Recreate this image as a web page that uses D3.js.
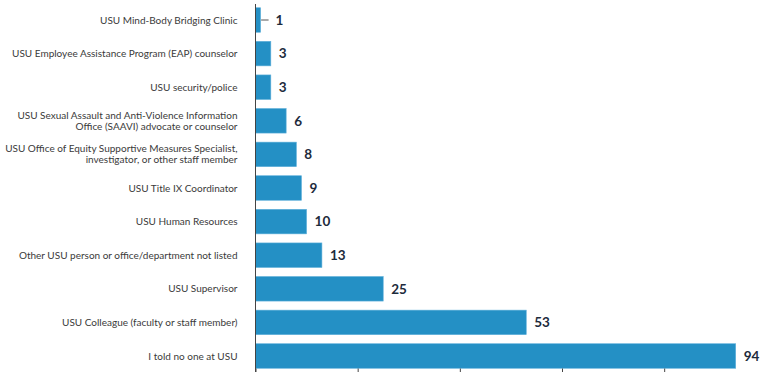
<!DOCTYPE html>
<html>
<head>
<meta charset="utf-8">
<script src="https://cdn.jsdelivr.net/npm/d3@7"></script>
<style>
  html, body { margin: 0; padding: 0; background: #fff; }
  svg { display: block; }
</style>
</head>
<body>
<svg id="chart" width="765" height="372"></svg>
<script>
// Who respondents told at USU (counts)
const categories = [
  ["USU Mind-Body Bridging Clinic"],
  ["USU Employee Assistance Program (EAP) counselor"],
  ["USU security/police"],
  ["USU Sexual Assault and Anti-Violence Information", "Office (SAAVI) advocate or counselor"],
  ["USU Office of Equity Supportive Measures Specialist,", "investigator, or other staff member"],
  ["USU Title IX Coordinator"],
  ["USU Human Resources"],
  ["Other USU person or office/department not listed"],
  ["USU Supervisor"],
  ["USU Colleague (faculty or staff member)"],
  ["I told no one at USU"]
];
const values = [1, 3, 3, 6, 8, 9, 10, 13, 25, 53, 94];
const xTicks = [0, 20, 40, 60, 80];

const svg = d3.select("#chart");
const axisX = 255.5;

const x = d3.scaleLinear().domain([0, 94]).range([axisX, 735.7]);
const y = d3.scaleBand()
  .domain(d3.range(categories.length))
  .range([3.2, 372.8])
  .paddingInner(0.27)
  .paddingOuter(0.135);

// bars
svg.append("g").selectAll("rect")
  .data(values)
  .join("rect")
  .attr("x", x(0))
  .attr("y", (d, i) => y(i))
  .attr("width", d => x(d) - x(0))
  .attr("height", y.bandwidth())
  .attr("fill", "#2490c5")
  .attr("stroke", "#5fb0da")
  .attr("stroke-width", 0.6);

// value labels (small bars get a leader line)
const labels = svg.append("g")
  .attr("font-family", "Lato, sans-serif")
  .attr("font-weight", 700)
  .attr("font-size", 13.5)
  .attr("fill", "#1d2b3c");
values.forEach((v, i) => {
  const cy = y(i) + y.bandwidth() / 2;
  let lx = x(v) + 8;
  if (v < 2) {
    svg.append("line")
      .attr("x1", x(v) + 0.5).attr("x2", x(v) + 8)
      .attr("y1", cy).attr("y2", cy)
      .attr("stroke", "#555").attr("stroke-width", 1);
    lx = x(v) + 15;
  }
  labels.append("text")
    .attr("x", lx)
    .attr("y", cy)
    .attr("dy", "0.36em")
    .text(v);
});

// category labels
const cat = svg.append("g")
  .attr("font-family", "Lato, sans-serif")
  .attr("font-size", 10)
  .attr("fill", "#3a3a3a")
  .attr("text-anchor", "end");
categories.forEach((lines, i) => {
  const cy = y(i) + y.bandwidth() / 2;
  const lh = 11;
  const t = cat.append("text").attr("x", 237.5);
  lines.forEach((ln, k) => {
    t.append("tspan")
      .attr("x", 237.5)
      .attr("y", cy + (k - (lines.length - 1) / 2) * lh)
      .attr("dy", "0.35em")
      .text(ln);
  });
});

// axes: vertical baseline and bottom ticks
svg.append("line")
  .attr("x1", axisX).attr("x2", axisX)
  .attr("y1", 4).attr("y2", 372)
  .attr("stroke", "#444").attr("stroke-width", 1);

const xAxis = d3.axisBottom(x).tickValues(xTicks).tickSize(6).tickFormat("");
const gx = svg.append("g").attr("transform", "translate(0,368.5)").call(xAxis);
gx.select(".domain").remove();
gx.selectAll(".tick line").attr("stroke", "#444");
</script>
</body>
</html>
